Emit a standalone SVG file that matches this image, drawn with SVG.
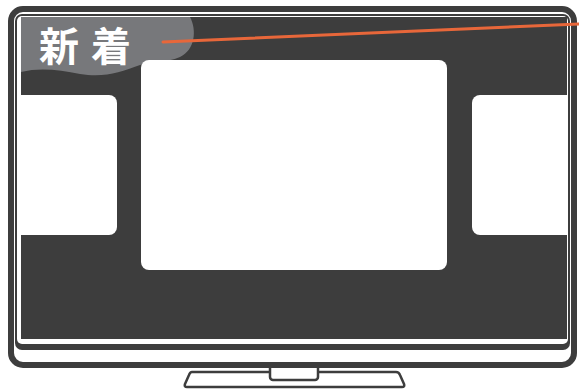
<svg xmlns="http://www.w3.org/2000/svg" width="579" height="389" viewBox="0 0 579 389">
<style>
.dk{fill:#3d3d3d}
.wh{fill:#ffffff}
.ln{fill:#ffffff;stroke:#3d3d3d;stroke-width:2.5;stroke-linejoin:round}
.lbl{font-family:"Noto Sans CJK JP","Noto Sans CJK SC",sans-serif;font-size:40px;font-weight:700;fill:#ffffff;letter-spacing:12px}
</style>
<g id="stand">
<path class="ln" d="M192,372 H396 Q399,372 400,375 L404,384 Q405,387 402,387 H187 Q184,387 185,384 L189,375 Q190,372 192,372 Z"/>
<rect class="ln" x="270" y="364" width="48" height="16" rx="3"/>
</g>
<g id="tv">
<rect x="11" y="9" width="563" height="356" rx="12" fill="#ffffff" stroke="#3d3d3d" stroke-width="6"/>
<rect class="dk" x="15" y="14" width="555" height="336" rx="7"/>
<rect class="wh" x="17" y="16" width="551" height="328" rx="5"/>
<rect class="dk" x="21" y="17" width="546" height="322"/>
</g>
<g id="label">
<path d="M21,17 H190 C197,30 195,50 180,57 C166,63 152,61 140,65 C120,72 105,78 80,74 C60,70 40,67 21,72 Z" fill="#77787b"/>
<text class="lbl" x="39" y="61">新着</text>
</g>
<g id="card-left"><rect class="wh" x="21" y="95" width="96" height="140" rx="8"/><rect class="wh" x="21" y="95" width="10" height="140"/></g>
<g id="card-center"><rect class="wh" x="141" y="60" width="306" height="210" rx="8"/></g>
<g id="card-right"><rect class="wh" x="472" y="95" width="95" height="140" rx="8"/><rect class="wh" x="557" y="95" width="10" height="140"/></g>
<g id="connectors">
<line x1="163" y1="42" x2="580" y2="24" stroke="#e8673a" stroke-width="3" stroke-linecap="round"/>
</g>
</svg>
